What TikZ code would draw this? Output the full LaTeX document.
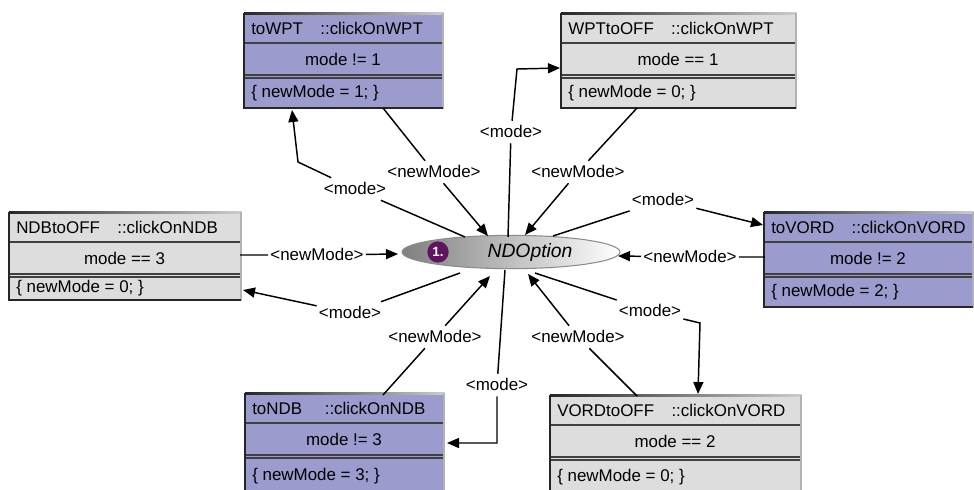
\documentclass[tikz,border=0pt]{standalone}
\usepackage{fontspec}
\setmainfont{Liberation Sans}
\usetikzlibrary{shapes.geometric,arrows.meta}
\definecolor{umlpurple}{RGB}{155,155,206}
\definecolor{umlgray}{RGB}{221,221,221}
\definecolor{numpurple}{RGB}{95,20,95}
\tikzset{
 boxnode/.style={rectangle, inner sep=0pt, draw=none},
 sepline/.style={draw=black!75, line width=1.1pt},
 dsepline/.style={draw=black!75, line width=0.9pt},
 boxedge/.style={draw=black!85, line width=1.6pt},
 boxtext/.style={inner sep=0pt, font=\fontsize{12.7}{14}\selectfont},
 lab/.style={inner xsep=1.5pt, inner ysep=3.5pt, text height=9pt, text depth=0.5pt, font=\fontsize{12.7}{14}\selectfont},
 conn/.style={line width=1.1pt, draw=black},
 arrowconn/.style={conn, -{Triangle[length=9pt,width=7.5pt]}},
}
\newcommand\umlbox[9]{%
  \fill[#6] (#2,#3) rectangle (#4,#5);
  \node[boxnode, minimum width={(#4-#2)*0.75pt}, minimum height={(#5-#3)*0.75pt}] (#1) at ({(#2+#4)/2},{(#3+#5)/2}) {};
  \draw[sepline] (#2,#3+30) -- (#4,#3+30);
  \draw[dsepline] (#2,#3+62) -- (#4,#3+62);
  \draw[dsepline] (#2,#3+65) -- (#4,#3+65);
  \shade[left color=black!85, right color=black!20] (#2,#3-1) rectangle (#4+1.5,#3+1);
  \fill[black!30] (#4-0.5,#3) rectangle (#4+1.5,#5+1);
  \draw[boxedge] (#2,#3) -- (#2,#5) -- (#4+1,#5);
  \node[boxtext, anchor=west] (#1t) at (#2+7,#3+15) {#7};
  \node[boxtext] (#1g) at ({(#2+#4)/2},#3+46) {#8};
  \node[boxtext, anchor=west] (#1a) at (#2+7,{(#3+65+#5)/2}) {#9};
}
\begin{document}
\begin{tikzpicture}[x=0.75pt,y=-0.75pt]
\useasboundingbox (0,0) rectangle (974,489);
\clip (0,0) rectangle (974,489);
\fill[white] (0,0) rectangle (974,489);

% boxes
\umlbox{wpt}{244}{13}{442}{108}{umlpurple}{toWPT\hspace{13pt}::clickOnWPT}{mode != 1}{\{ newMode = 1; \}}
\umlbox{wptoff}{561}{13}{795}{108}{umlgray}{WPTtoOFF\hspace{13pt}::clickOnWPT}{mode == 1}{\{ newMode = 0; \}}
\umlbox{ndboff}{9}{212}{240}{300}{umlgray}{NDBtoOFF\hspace{13pt}::clickOnNDB}{mode == 3}{\{ newMode = 0; \}}
\umlbox{vord}{764}{212}{972}{307}{umlpurple}{toVORD\hspace{13pt}::clickOnVORD}{mode != 2}{\{ newMode = 2; \}}
\umlbox{vordoff}{550}{395}{800}{494}{umlgray}{VORDtoOFF\hspace{13pt}::clickOnVORD}{mode == 2}{\{ newMode = 0; \}}
\umlbox{ndb}{245}{393}{443}{494}{umlpurple}{toNDB\hspace{17pt}::clickOnNDB}{mode != 3}{\{ newMode = 3; \}}

% central state
\node[ellipse, minimum width=163.5pt, minimum height=25pt, draw=black!45, line width=0.8pt,
      left color=black!50, middle color=black!12, right color=white] (ell) at (511,252) {};
\node[circle, fill=numpurple, minimum size=16pt, inner sep=0pt,
      font=\bfseries\fontsize{10}{10}\selectfont, text=white] (num) at (438,252) {1.};
\node[font=\itshape\fontsize{14.5}{16}\selectfont, inner sep=0pt] (ndtext) at (530,252) {NDOption};

% connector end points
\coordinate (c1s) at (383,108); \coordinate (c1e) at (488,236);
\coordinate (c2s) at (465,237); \coordinate (c2m) at (298,162); \coordinate (c2e) at (292,110);
\coordinate (c3s) at (508,237); \coordinate (c3m) at (517,69);  \coordinate (c3e) at (560,68);
\coordinate (c4s) at (637,108); \coordinate (c4e) at (525,235);
\coordinate (c5s) at (553,236); \coordinate (c5e) at (763,225);
\coordinate (c6s) at (765,257); \coordinate (c6e) at (618,256);
\coordinate (c7s) at (535,273); \coordinate (c7m) at (700,323); \coordinate (c7e) at (698,394);
\coordinate (c8s) at (637,396); \coordinate (c8e) at (528,274);
\coordinate (c9s) at (505,270); \coordinate (c9m) at (497,443); \coordinate (c9e) at (447,443);
\coordinate (c10s) at (383,395); \coordinate (c10e) at (490,276);
\coordinate (c11s) at (240,255); \coordinate (c11e) at (398,254);
\coordinate (c12s) at (460,273); \coordinate (c12e) at (243,290);

% labels
\node[lab] (l1) at (434,172) {<newMode>};
\node[lab] (l2) at (355,189) {<mode>};
\node[lab] (l3) at (511,132) {<mode>};
\node[lab] (l4) at (578,172) {<newMode>};
\node[lab] (l5) at (663,200) {<mode>};
\node[lab] (l6) at (690,257) {<newMode>};
\node[lab] (l7) at (650,311) {<mode>};
\node[lab] (l8) at (578,337) {<newMode>};
\node[lab] (l9) at (497,385) {<mode>};
\node[lab] (l10) at (435,337) {<newMode>};
\node[lab] (l11) at (317,255) {<newMode>};
\node[lab] (l12) at (350,313) {<mode>};

% connectors
\draw[arrowconn] (c1s) -- (l1) -- (c1e);
\draw[arrowconn] (c2s) -- (l2) -- (c2m) -- (c2e);
\draw[arrowconn] (c3s) -- (l3) -- (c3m) -- (c3e);
\draw[arrowconn] (c4s) -- (l4) -- (c4e);
\draw[arrowconn] (c5s) -- (l5) -- (c5e);
\draw[arrowconn] (c6s) -- (l6) -- (c6e);
\draw[arrowconn] (c7s) -- (l7) -- (c7m) -- (c7e);
\draw[arrowconn] (c8s) -- (l8) -- (c8e);
\draw[arrowconn] (c9s) -- (l9) -- (c9m) -- (c9e);
\draw[arrowconn] (c10s) -- (l10) -- (c10e);
\draw[arrowconn] (c11s) -- (l11) -- (c11e);
\draw[arrowconn] (c12s) -- (l12) -- (c12e);
\end{tikzpicture}
\end{document}
